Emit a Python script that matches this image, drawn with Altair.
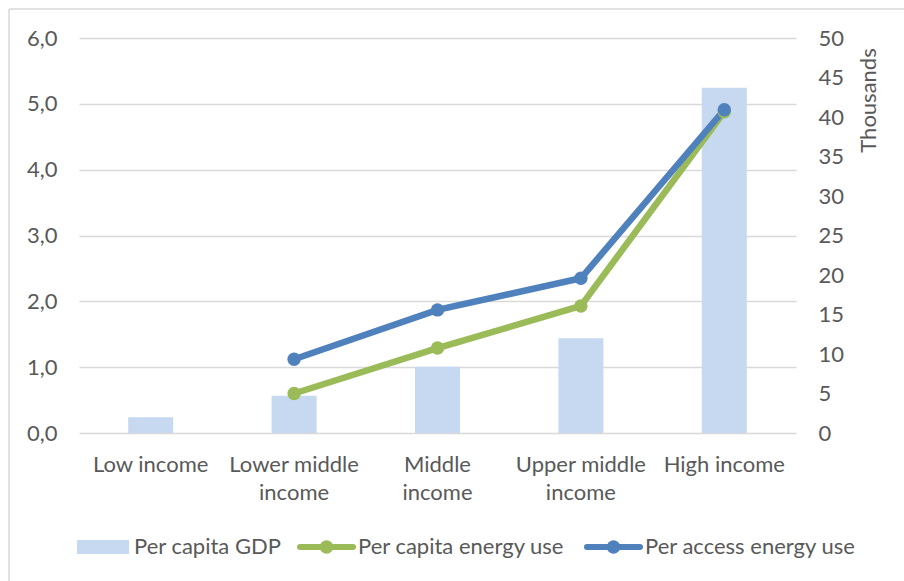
import altair as alt
import pandas as pd

# Income groups along the x axis
categories = ["Low income", "Lower middle income", "Middle income",
              "Upper middle income", "High income"]

# Per capita GDP, thousands (right axis)
gdp_thousands = [2.0, 4.7, 8.4, 12.0, 43.7]

# Energy use series (left axis); no value for the low income group
line_categories = ["Lower middle income", "Middle income",
                   "Upper middle income", "High income"]
per_capita_energy = [0.60, 1.29, 1.93, 4.88]
per_access_energy = [1.12, 1.87, 2.35, 4.91]

left_ticks = [0, 1, 2, 3, 4, 5, 6]
right_ticks = [0, 5, 10, 15, 20, 25, 30, 35, 40, 45, 50]

bar_series = ["Per capita GDP"]
line_series = ["Per capita energy use", "Per access energy use"]
bar_colors = ["#C6D9F1"]
line_colors = ["#9BBB59", "#4F81BD"]

FONT = "Lato"
FS = 22
TEXT = "#595959"
GRID = "#D9D9D9"

bars_df = pd.DataFrame({"category": categories, "gdp": gdp_thousands,
                        "bar_series": bar_series[0]})
lines_df = pd.concat([
    pd.DataFrame({"category": line_categories, "energy": per_capita_energy,
                  "series": line_series[0], "order": range(4)}),
    pd.DataFrame({"category": line_categories, "energy": per_access_energy,
                  "series": line_series[1], "order": range(4)}),
])

x_scale = alt.Scale(domain=categories, paddingInner=0, paddingOuter=0)
x_axis = alt.Axis(
    title=None, labelAngle=0, domain=False, ticks=False, labelOverlap=False,
    labelFont=FONT, labelFontSize=FS, labelColor=TEXT, labelPadding=21,
    labelLineHeight=28, labelLimit=0,
    labelExpr="indexof(datum.value, 'iddle') >= 0 "
              "? [slice(datum.value, 0, lastindexof(datum.value, ' ')), 'income'] : datum.value",
)
energy_scale = alt.Scale(domain=[0, 6], nice=False)

bars = alt.Chart(bars_df).mark_bar(size=45).encode(
    x=alt.X("category:N", scale=x_scale, axis=x_axis, sort=categories),
    y=alt.Y("gdp:Q", scale=alt.Scale(domain=[0, 50], nice=False),
            axis=alt.Axis(orient="right", values=right_ticks, grid=False,
                          domain=False, ticks=False, labelPadding=22,
                          labelFont=FONT, labelFontSize=FS, labelColor=TEXT,
                          title="Thousands", titleFont=FONT, titleFontSize=FS,
                          titleFontWeight="normal", titleColor=TEXT,
                          titleAngle=270, titleX=72, titleY=62,
                          titleAlign="center", titleBaseline="middle")),
    color=alt.Color("bar_series:N",
                    scale=alt.Scale(domain=bar_series, range=bar_colors),
                    legend=None),
)

# lines are coloured through stroke, markers through fill: each gets its own scale
lines = alt.Chart(lines_df).mark_line(strokeWidth=6.5).encode(
    x=alt.X("category:N", scale=x_scale, axis=x_axis, sort=categories),
    y=alt.Y("energy:Q", scale=energy_scale,
            axis=alt.Axis(orient="left", values=left_ticks, grid=True,
                          gridColor=GRID, gridWidth=1.3, domain=False,
                          ticks=False, labelPadding=22, title=None,
                          labelFont=FONT, labelFontSize=FS, labelColor=TEXT,
                          labelExpr="replace(format(datum.value, '.1f'), '.', ',')")),
    stroke=alt.Stroke("series:N",
                      scale=alt.Scale(domain=line_series, range=line_colors),
                      legend=None),
    order="order:Q",
)

points = alt.Chart(lines_df).mark_point(filled=True, opacity=1, size=180,
                                        shape="circle", strokeWidth=0).encode(
    x=alt.X("category:N", scale=x_scale, axis=x_axis, sort=categories),
    y=alt.Y("energy:Q", scale=energy_scale, axis=None),
    fill=alt.Fill("series:N",
                  scale=alt.Scale(domain=line_series, range=line_colors),
                  legend=None),
)

# Light frame of the chart area along its top and left edges
one_row = alt.Data(values=[{"k": 1}])
top_edge = alt.Chart(one_row).mark_rule(color=GRID, strokeWidth=1.5).encode(
    x=alt.value(-70), x2=alt.value(900), y=alt.value(-29))
left_edge = alt.Chart(one_row).mark_rule(color=GRID, strokeWidth=1.5).encode(
    x=alt.value(-70), y=alt.value(-29), y2=alt.value(560))

# Legend row under the category labels
KEY_Y = 509
key_layers = [
    alt.Chart(one_row).mark_rect(color=bar_colors[0]).encode(
        x=alt.value(-2), x2=alt.value(50),
        y=alt.value(KEY_Y - 7), y2=alt.value(KEY_Y + 7)),
    alt.Chart(one_row).mark_text(align="left", baseline="middle", font=FONT,
                                 fontSize=FS, color=TEXT).encode(
        x=alt.value(55), y=alt.value(KEY_Y), text=alt.value(bar_series[0])),
]
for name, colour, start in zip(line_series, line_colors, [218, 505]):
    key_layers += [
        alt.Chart(one_row).mark_rule(color=colour, strokeWidth=6,
                                     strokeCap="round").encode(
            x=alt.value(start + 3), x2=alt.value(start + 56), y=alt.value(KEY_Y)),
        alt.Chart(one_row).mark_circle(color=colour, opacity=1, size=180).encode(
            x=alt.value(start + 29.5), y=alt.value(KEY_Y)),
        alt.Chart(one_row).mark_text(align="left", baseline="middle", font=FONT,
                                     fontSize=FS, color=TEXT).encode(
            x=alt.value(start + 61), y=alt.value(KEY_Y), text=alt.value(name)),
    ]

chart = alt.layer(top_edge, left_edge, bars, lines, points, *key_layers).resolve_scale(
    y="independent"
).properties(
    width=717, height=395,
    autosize=alt.AutoSizeParams(type="none"),
    padding={"left": 79, "top": 38, "right": 108, "bottom": 148},
    background="white",
).configure_view(stroke=None)

chart.save("out.html", embed_options={"renderer": "svg", "actions": False})
